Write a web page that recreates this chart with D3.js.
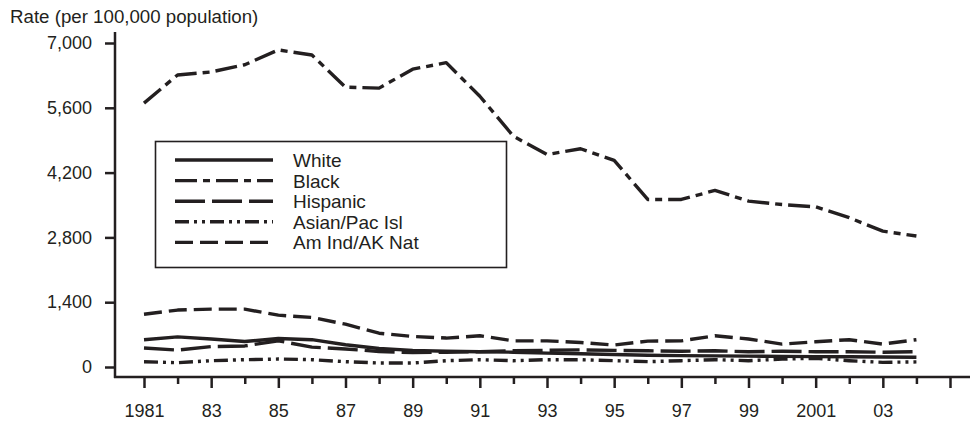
<!DOCTYPE html>
<html>
<head>
<meta charset="utf-8">
<script src="https://cdn.jsdelivr.net/npm/d3@7"></script>
<style>
  body { margin: 0; background: #fff; }
  text { font-family: "Liberation Sans", Arial, sans-serif; fill: #231f20; }
</style>
</head>
<body>
<div id="wrapper"></div>
<script>
const years = d3.range(1981, 2005);
const yTicks = [0, 1400, 2800, 4200, 5600, 7000];
const seriesNames = ["White", "Black", "Hispanic", "Asian/Pac Isl", "Am Ind/AK Nat"];

const white = [590, 650, 605, 550, 615, 590, 480, 400, 360, 340, 330, 320, 300, 285, 270, 255, 245, 240, 235, 230, 225, 220, 215, 210];
const black = [5700, 6310, 6375, 6530, 6850, 6740, 6045, 6025, 6435, 6575, 5850, 4985, 4590, 4715, 4465, 3620, 3620, 3815, 3585, 3510, 3460, 3225, 2935, 2830];
const hispanic = [410, 365, 440, 455, 565, 430, 390, 335, 310, 320, 330, 350, 360, 370, 360, 350, 340, 350, 330, 340, 330, 330, 320, 330];
const asian = [115, 93, 136, 158, 172, 158, 115, 86, 86, 136, 158, 136, 158, 158, 136, 115, 136, 158, 136, 172, 187, 136, 100, 110];
const amInd = [1140, 1230, 1250, 1250, 1120, 1070, 925, 730, 660, 625, 675, 565, 565, 530, 475, 560, 565, 675, 605, 495, 545, 590, 495, 590];

const seriesValues = [white, black, hispanic, asian, amInd];
const dashes = ["none", "22,6,7,6", "30,7", "14,5,3,5,3,5", "18,7"];

const width = 971;
const height = 425;
const ink = "#231f20";

const svg = d3.select("#wrapper").append("svg")
  .attr("width", width)
  .attr("height", height);

const xScale = d3.scaleLinear().domain([1981, 2005]).range([144, 950]);
const yScale = d3.scaleLinear().domain([0, 7000]).range([367, 43]);

const axisLeftX = 115;
const axisBottomY = 377;

// title
svg.append("text")
  .attr("x", 10)
  .attr("y", 23)
  .style("font-size", "18.7px")
  .text("Rate (per 100,000 population)");

// y axis
const yAxis = svg.append("g")
  .attr("transform", `translate(${axisLeftX},0)`)
  .call(d3.axisLeft(yScale).tickValues(yTicks).tickSize(10).tickPadding(13)
    .tickFormat(d3.format(",")));
yAxis.select(".domain").remove();
yAxis.selectAll(".tick line").attr("stroke", ink).attr("stroke-width", 2.5);
yAxis.selectAll(".tick text").style("font-size", "18px").style("font-family", "Liberation Sans, Arial, sans-serif").attr("fill", ink);

svg.append("line")
  .attr("x1", axisLeftX).attr("x2", axisLeftX)
  .attr("y1", 32).attr("y2", axisBottomY + 1)
  .attr("stroke", ink).attr("stroke-width", 2.5);

// x axis - major (odd years, labelled) and minor (even years)
const majorYears = d3.range(1981, 2006, 2);
const minorYears = d3.range(1982, 2005, 2);
const yearLabel = d => (d === 1981 ? "1981" : d === 2001 ? "2001" : String(d).slice(2));

const xMajor = svg.append("g")
  .attr("transform", `translate(0,${axisBottomY})`)
  .call(d3.axisBottom(xScale).tickValues(majorYears).tickSize(11).tickPadding(16)
    .tickFormat(d => (d === 2005 ? "" : yearLabel(d))));
xMajor.select(".domain").remove();
xMajor.selectAll(".tick line").attr("stroke", ink).attr("stroke-width", 2.5);
xMajor.selectAll(".tick text").style("font-size", "18px").style("font-family", "Liberation Sans, Arial, sans-serif").attr("fill", ink);

const xMinor = svg.append("g")
  .attr("transform", `translate(0,${axisBottomY})`)
  .call(d3.axisBottom(xScale).tickValues(minorYears).tickSize(7).tickFormat(""));
xMinor.select(".domain").remove();
xMinor.selectAll(".tick line").attr("stroke", ink).attr("stroke-width", 2.5);

svg.append("line")
  .attr("x1", axisLeftX - 1).attr("x2", width - 1)
  .attr("y1", axisBottomY).attr("y2", axisBottomY)
  .attr("stroke", ink).attr("stroke-width", 2.5);

// lines
const lineGen = d3.line()
  .x((d, i) => xScale(years[i]))
  .y(d => yScale(d));

svg.append("g").selectAll("path")
  .data(seriesValues)
  .join("path")
  .attr("d", d => lineGen(d))
  .attr("fill", "none")
  .attr("stroke", ink)
  .attr("stroke-width", 3.4)
  .attr("stroke-linejoin", "round")
  .attr("stroke-dasharray", (d, i) => dashes[i]);

// legend
const legend = svg.append("g");
legend.append("rect")
  .attr("x", 155.5).attr("y", 141.5)
  .attr("width", 351).attr("height", 126)
  .attr("fill", "#fff")
  .attr("stroke", ink).attr("stroke-width", 1.6);

const legendRows = legend.selectAll("g.row")
  .data(seriesNames)
  .join("g")
  .attr("class", "row")
  .attr("transform", (d, i) => `translate(0,${160 + i * 20.6})`);

legendRows.append("line")
  .attr("x1", 175).attr("x2", 273)
  .attr("stroke", ink).attr("stroke-width", 3.4)
  .attr("stroke-dasharray", (d, i) => dashes[i]);

legendRows.append("text")
  .attr("x", 293)
  .attr("y", 7)
  .style("font-size", "19px")
  .text(d => d);
</script>
</body>
</html>
